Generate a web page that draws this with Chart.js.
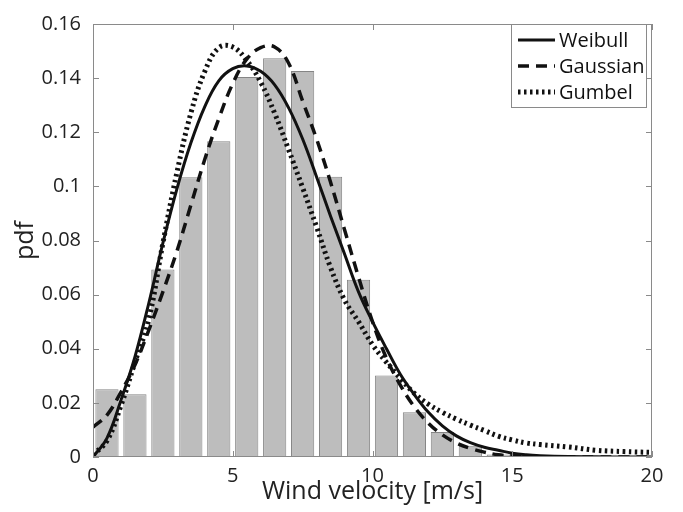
<!DOCTYPE html>
<html>
<head>
<meta charset="utf-8">
<script src="https://cdn.jsdelivr.net/npm/chart.js@4.4.0/dist/chart.umd.min.js"></script>
<style>
  html, body { margin: 0; padding: 0; background: #fff; }
  #wrap { width: 683px; height: 512px; position: relative; }
</style>
</head>
<body>
<div id="wrap"><canvas id="pdfChart"></canvas></div>
<script>
// histogram (bin centres, m/s) and relative frequency
const binCenters = [0.5, 1.5, 2.5, 3.5, 4.5, 5.5, 6.5, 7.5, 8.5, 9.5, 10.5, 11.5, 12.5, 13.5, 14.5, 15.5];
const binHeights = [0.025, 0.0232, 0.0693, 0.1034, 0.1167, 0.1404, 0.1473, 0.1426, 0.1036, 0.0655, 0.0301, 0.0165, 0.0092, 0.0042, 0.0009, 0.0003];

const curveX = [0, 0.5, 1, 1.5, 2, 2.5, 3, 3.5, 4, 4.5, 5, 5.5, 6, 6.5, 7, 7.5, 8, 8.5, 9, 9.5,
                10, 10.5, 11, 11.5, 12, 12.5, 13, 13.5, 14, 14.5, 15, 15.5, 16, 17, 18, 19, 20];
const weibull = [0, 0.007, 0.021, 0.037, 0.057, 0.079, 0.099, 0.116, 0.1295, 0.139, 0.1435, 0.1445, 0.1425, 0.1375, 0.129, 0.1175, 0.1035, 0.089, 0.075, 0.061,
                 0.050, 0.040, 0.0305, 0.023, 0.0165, 0.0115, 0.0078, 0.0053, 0.0036, 0.0025, 0.0014, 0.0008, 0.0005, 0.0002, 0.0001, 0, 0];
const gaussian = [0.011, 0.0155, 0.024, 0.034, 0.047, 0.061, 0.076, 0.093, 0.110, 0.125, 0.138, 0.147, 0.1513, 0.1515, 0.1455, 0.1315, 0.1175, 0.1015, 0.084, 0.0665,
                  0.050, 0.0365, 0.0265, 0.0185, 0.0125, 0.0082, 0.0052, 0.0032, 0.0018, 0.0008, 0.0004, 0.0002, 0.0001, 0, 0, 0, 0];
const gumbel = [0.0008, 0.006, 0.019, 0.035, 0.051, 0.079, 0.105, 0.127, 0.1425, 0.1512, 0.1515, 0.1465, 0.1385, 0.127, 0.1135, 0.0995, 0.085, 0.070, 0.058, 0.050,
                0.0415, 0.035, 0.029, 0.0235, 0.0195, 0.0165, 0.014, 0.0118, 0.0098, 0.0077, 0.0063, 0.0052, 0.0046, 0.0037, 0.0025, 0.002, 0.0017];

const xTicks = [0, 5, 10, 15, 20];
const yTicks = [0, 0.02, 0.04, 0.06, 0.08, 0.1, 0.12, 0.14, 0.16];

const FONT = "'Open Sans', sans-serif";
const INK = '#111';
const FRAME = '#8a8a8a';

const toPoints = ys => curveX.map((x, i) => ({ x: x, y: ys[i] }));

// matlab style box with inward ticks + legend box in the top right
const framePlugin = {
    id: 'frame',
    beforeDraw(chart) {
        const ctx = chart.ctx;
        ctx.save();
        ctx.fillStyle = '#fff';
        ctx.fillRect(0, 0, chart.width, chart.height);
        ctx.restore();
    },
    afterDraw(chart) {
        const { ctx, chartArea: a, scales } = chart;
        ctx.save();
        ctx.strokeStyle = FRAME;
        ctx.lineWidth = 1;
        ctx.strokeRect(a.left + 0.5, a.top + 0.5, a.right - a.left - 1, a.bottom - a.top - 1);

        ctx.beginPath();
        xTicks.forEach(v => {
            const x = Math.round(scales.x.getPixelForValue(v)) + 0.5;
            ctx.moveTo(x, a.bottom); ctx.lineTo(x, a.bottom - 6);
            ctx.moveTo(x, a.top); ctx.lineTo(x, a.top + 6);
        });
        yTicks.forEach(v => {
            const y = Math.round(scales.y.getPixelForValue(v)) + 0.5;
            ctx.moveTo(a.left, y); ctx.lineTo(a.left + 6, y);
            ctx.moveTo(a.right, y); ctx.lineTo(a.right - 6, y);
        });
        ctx.stroke();

        // legend
        const box = { left: 511, top: 24, width: 135, height: 83 };
        ctx.fillStyle = '#fff';
        ctx.fillRect(box.left, box.top, box.width, box.height);
        ctx.strokeRect(box.left + 0.5, box.top + 0.5, box.width, box.height);

        const lines = chart.data.datasets.filter(d => d.type === 'line');
        lines.forEach((d, i) => {
            const y = box.top + 16 + i * 26;
            ctx.beginPath();
            ctx.strokeStyle = d.borderColor;
            ctx.lineWidth = d.borderWidth;
            ctx.setLineDash(d.borderDash || []);
            ctx.moveTo(box.left + 7, y);
            ctx.lineTo(box.left + 44, y);
            ctx.stroke();
            ctx.setLineDash([]);
            ctx.fillStyle = '#111';
            ctx.font = '20px ' + FONT;
            ctx.textBaseline = 'middle';
            ctx.textAlign = 'left';
            ctx.fillText(d.label, box.left + 48, y + 1);
        });
        ctx.restore();
    }
};

const ctx = document.getElementById('pdfChart').getContext('2d');
new Chart(ctx, {
    data: {
        datasets: [
            {
                type: 'line', label: 'Weibull', data: toPoints(weibull),
                borderColor: INK, borderWidth: 3, pointRadius: 0, fill: false,
                tension: 0.4, order: 1
            },
            {
                type: 'line', label: 'Gaussian', data: toPoints(gaussian),
                borderColor: INK, borderWidth: 3.5, borderDash: [11, 7], borderCapStyle: 'butt',
                pointRadius: 0, fill: false, tension: 0.4, order: 2
            },
            {
                type: 'line', label: 'Gumbel', data: toPoints(gumbel),
                borderColor: INK, borderWidth: 5, borderDash: [2.5, 3.5], borderCapStyle: 'butt',
                pointRadius: 0, fill: false, tension: 0.4, order: 3
            },
            {
                type: 'bar', label: 'data', data: binCenters.map((x, i) => ({ x: x, y: binHeights[i] })),
                backgroundColor: '#bdbdbd', borderColor: '#858585', borderWidth: 1,
                barPercentage: 0.83, categoryPercentage: 1, order: 10
            }
        ]
    },
    options: {
        responsive: true,
        maintainAspectRatio: false,
        animation: false,
        devicePixelRatio: 1,
        layout: { padding: { top: 18, right: 31, left: 0, bottom: 0 } },
        plugins: {
            legend: { display: false },
            tooltip: { enabled: false }
        },
        scales: {
            x: {
                type: 'linear', min: 0, max: 20, offset: false,
                afterBuildTicks: s => { s.ticks = xTicks.map(v => ({ value: v })); },
                afterFit: s => { s.height = 55; },
                grid: { display: false, drawTicks: false },
                border: { display: false },
                ticks: { font: { family: FONT, size: 20 }, color: '#222', padding: 7, maxRotation: 0 },
                title: {
                    display: true, text: 'Wind velocity [m/s]', color: '#222',
                    font: { family: FONT, size: 25 }, padding: { top: 0, bottom: 5 }
                }
            },
            y: {
                min: 0, max: 0.16,
                afterBuildTicks: s => { s.ticks = yTicks.map(v => ({ value: v })); },
                afterFit: s => { s.width = 93; },
                grid: { display: false, drawTicks: false },
                border: { display: false },
                ticks: {
                    font: { family: FONT, size: 20 }, color: '#222', padding: 12,
                    callback: v => String(+v.toFixed(2))
                },
                title: {
                    display: true, text: 'pdf', color: '#222',
                    font: { family: FONT, size: 25 }, padding: { top: 11, bottom: 0 }
                }
            }
        }
    },
    plugins: [framePlugin]
});
</script>
</body>
</html>
